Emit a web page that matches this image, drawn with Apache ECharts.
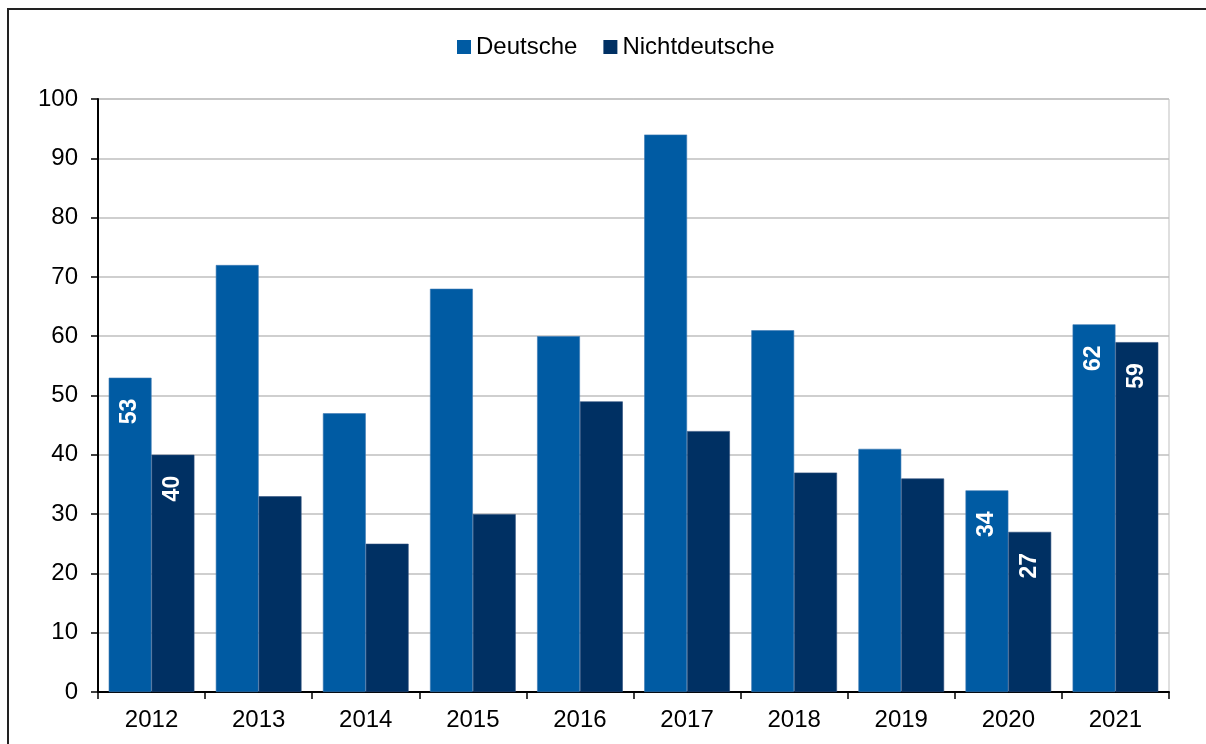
<!DOCTYPE html>
<html>
<head>
<meta charset="utf-8">
<script src="https://cdn.jsdelivr.net/npm/echarts@6/dist/echarts.min.js"></script>
<style>
html,body{margin:0;padding:0;background:#fff;}
#chart{width:1206px;height:744px;}
</style>
</head>
<body>
<div id="chart"></div>
<script>
const years = ['2012','2013','2014','2015','2016','2017','2018','2019','2020','2021'];
const deutsche = [53, 72, 47, 68, 60, 94, 61, 41, 34, 62];
const nichtdeutsche = [40, 33, 25, 30, 49, 44, 37, 36, 27, 59];
const labeledYears = ['2012','2020','2021'];
const seriesNames = ['Deutsche','Nichtdeutsche'];
const colors = ['#005BA3','#003063'];

const FONT = '"Liberation Sans", Arial, sans-serif';

function buildData(values){
  return values.map((v,i)=>({
    value: v,
    label: {show: labeledYears.includes(years[i])}
  }));
}

const labelStyle = {
  show: false,
  position: 'insideTop',
  rotate: 90,
  align: 'right',
  verticalAlign: 'middle',
  distance: 21,
  color: '#fff',
  fontWeight: 'bold',
  fontSize: 23,
  fontFamily: FONT
};

const chart = echarts.init(document.getElementById('chart'), null, {renderer:'canvas'});
chart.setOption({
  animation: false,
  backgroundColor: '#fff',
  textStyle: {fontFamily: FONT},
  graphic: [{
    type: 'rect',
    shape: {x: 8, y: 9, width: 1220, height: 760},
    style: {fill: 'none', stroke: '#222', lineWidth: 2},
    silent: true
  }],
  legend: {
    top: 30,
    left: 452,
    itemWidth: 14,
    itemHeight: 14,
    itemGap: 26,
    icon: 'rect',
    itemStyle: {borderWidth: 0},
    textStyle: {fontSize: 24, color: '#000', fontFamily: FONT},
    data: seriesNames
  },
  grid: {
    left: 98, right: 37, top: 99, bottom: 52,
    show: true, borderColor: '#BFBFBF', borderWidth: 1,
    containLabel: false
  },
  xAxis: {
    type: 'category',
    data: years,
    axisLine: {lineStyle: {color: '#000', width: 2}},
    axisTick: {show: true, length: 7, lineStyle: {color: '#000', width: 1.5}, alignWithLabel: false},
    axisLabel: {color: '#000', fontSize: 24, margin: 16, fontFamily: FONT}
  },
  yAxis: {
    type: 'value',
    min: 0, max: 100, interval: 10,
    axisLine: {show: true, lineStyle: {color: '#000', width: 2}},
    axisTick: {show: true, length: 7, lineStyle: {color: '#000', width: 1.5}},
    axisLabel: {color: '#000', fontSize: 24, margin: 20, fontFamily: FONT},
    splitLine: {lineStyle: {color: '#BFBFBF', width: 1.5}}
  },
  series: [
    {
      name: seriesNames[0], type: 'bar', data: buildData(deutsche),
      barGap: '0%', barCategoryGap: '20%',
      itemStyle: {color: colors[0], borderColor: '#3D78B3', borderWidth: 0.6},
      label: labelStyle
    },
    {
      name: seriesNames[1], type: 'bar', data: buildData(nichtdeutsche),
      barGap: '0%', barCategoryGap: '20%',
      itemStyle: {color: colors[1], borderColor: '#2A4C7A', borderWidth: 0.6},
      label: labelStyle
    }
  ]
});
</script>
</body>
</html>
